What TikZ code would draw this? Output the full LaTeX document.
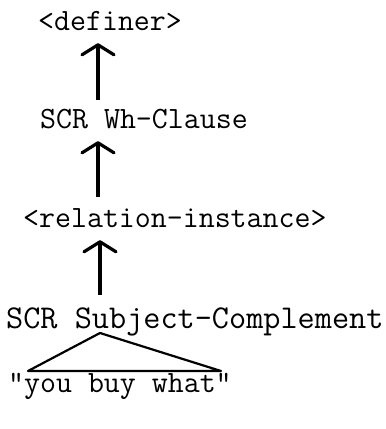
\documentclass[tikz,border=0pt]{standalone}
\usepackage{fontspec}
\usetikzlibrary{arrows.meta}
\begin{document}
\begin{tikzpicture}[x=1pt,y=-1pt,
  lbl/.style={anchor=base west,inner sep=0pt,text depth=0pt,text height=18pt,
    font=\ttfamily\fontsize{31}{31}\selectfont},
  uparr/.style={line width=3.2pt,-{Straight Barb[length=10pt,width=32pt,round]}},
  tri/.style={line width=2.2pt,line join=round}]
\useasboundingbox (0,0) rectangle (386,429);
\node[lbl] (def) at (38,30) {<definer>};
\node[lbl] (wh) at (40,128) {SCR Wh-Clause};
\node[lbl] (rel) at (23,227) {<relation-instance>};
\node[lbl,font=\ttfamily\fontsize{33.3}{33.3}\selectfont,text height=20pt] (subj) at (6,328) {SCR Subject-Complement};
\node[lbl] (you) at (8,392) {"you buy what"};
\coordinate (ax) at (98,0);
\coordinate (bx) at (100,0);
\draw[uparr,shorten <=10pt,shorten >=13pt] (ax |- wh.north) -- (ax |- def.south);
\draw[uparr,shorten <=12pt,shorten >=13pt] (ax |- rel.north) -- (ax |- wh.south);
\draw[uparr,shorten <=13pt,shorten >=13pt] (bx |- subj.north) -- (bx |- rel.south);
\coordinate (apex) at (100,333);
\coordinate (tl) at (28,371);
\coordinate (tr) at (221,371);
\draw[tri] (apex) -- (tl) -- (tr) -- cycle;
\end{tikzpicture}
\end{document}
